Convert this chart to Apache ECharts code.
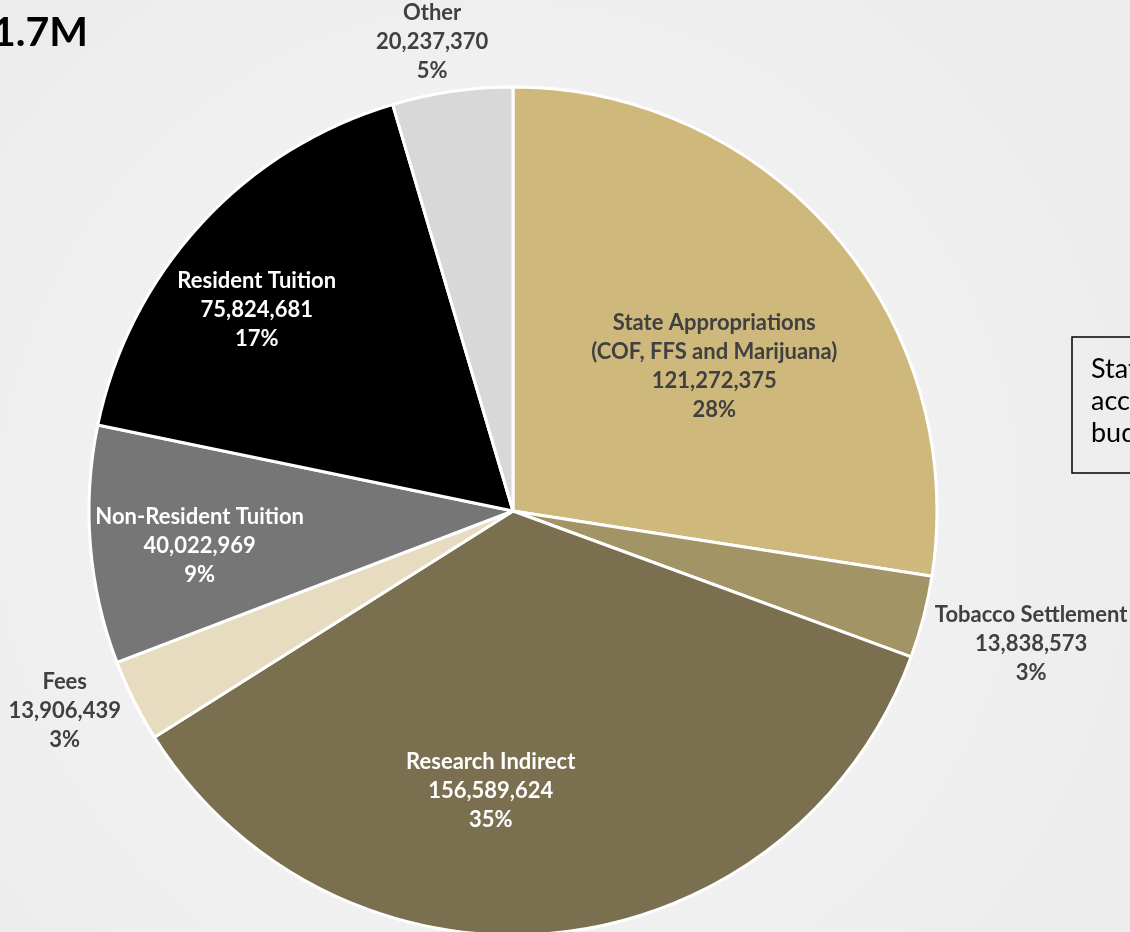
<!DOCTYPE html>
<html>
<head>
<meta charset="utf-8">
<title>Revenue sources</title>
<script src="https://cdn.jsdelivr.net/npm/echarts@6/dist/echarts.min.js"></script>
<style>
  html, body { margin: 0; padding: 0; }
  #chart { width: 1130px; height: 932px; }
</style>
</head>
<body>
<div id="chart"></div>
<script>
// data, clockwise from 12 o'clock
const categories = [
    'State Appropriations\n(COF, FFS and Marijuana)',
    'Tobacco Settlement',
    'Research Indirect',
    'Fees',
    'Non-Resident Tuition',
    'Resident Tuition',
    'Other'
];
const values = [121272375, 13838573, 156589624, 13906439, 40022969, 75824681, 20237370];
const titleText = '$441.7M';
const noteLines = ['State appropriations', 'according to the', 'budget'];

// styles
const sliceColors = ['#CEB87C', '#A39465', '#7A6F4E', '#E8DCC0', '#767676', '#000000', '#D8D8D8'];
const labelColors = ['#404040', '#404040', '#ffffff', '#404040', '#ffffff', '#ffffff', '#404040'];
// shift of each label from the slice's inner label point
const labelShift = [[38, -5], [310, 79], [-45, 66], [-256, 104], [-99, 18], [-98, -56], [-50, -256]];

const myChart = echarts.init(document.getElementById('chart'));

const option = {
    backgroundColor: {
        type: 'radial', x: 0.45, y: 0.55, r: 0.75,
        colorStops: [{ offset: 0, color: '#f7f7f7' }, { offset: 1, color: '#ececec' }]
    },
    animation: false,
    graphic: [
        {
            type: 'text', x: 88, y: 12,
            style: { text: titleText, fontFamily: 'Lato', fontWeight: 'bold', fontSize: 41, fill: '#000', align: 'right' }
        },
        {
            type: 'rect', shape: { x: 1072, y: 337, width: 100, height: 136 },
            style: { fill: 'none', stroke: '#000', lineWidth: 1.5 }
        },
        {
            type: 'text', x: 1091, y: 353,
            style: { text: noteLines.join('\n'), fontFamily: 'Lato', fontSize: 27, lineHeight: 32, fill: '#000' }
        }
    ],
    series: [{
        type: 'pie',
        center: [513, 511],
        radius: 424,
        startAngle: 90,
        clockwise: true,
        percentPrecision: 0,
        avoidLabelOverlap: false,
        itemStyle: { borderColor: '#ffffff', borderWidth: 3 },
        label: {
            show: true,
            position: 'inside',
            fontFamily: 'Lato',
            fontWeight: 'bold',
            fontSize: 22,
            lineHeight: 29,
            align: 'center',
            formatter: (p) => p.name + '\n' + p.value.toLocaleString('en-US') + '\n' + p.percent + '%'
        },
        labelLine: { show: false },
        labelLayout: (p) => ({ dx: labelShift[p.dataIndex][0], dy: labelShift[p.dataIndex][1] }),
        emphasis: { disabled: true },
        data: categories.map((name, i) => ({
            name: name,
            value: values[i],
            itemStyle: { color: sliceColors[i] },
            label: { color: labelColors[i] }
        }))
    }]
};

myChart.setOption(option);
</script>
</body>
</html>
